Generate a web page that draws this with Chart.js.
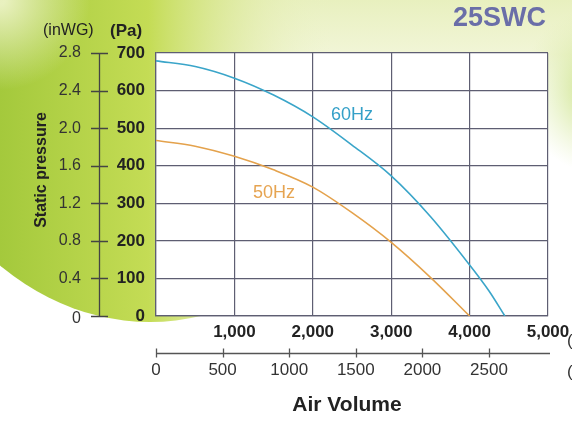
<!DOCTYPE html>
<html>
<head>
<meta charset="utf-8">
<script src="https://cdn.jsdelivr.net/npm/chart.js@4.4.0/dist/chart.umd.min.js"></script>
<style>
  html, body { margin: 0; padding: 0; background: #fff; }
  #wrap { width: 572px; height: 429px; }
</style>
</head>
<body>
<div id="wrap"><canvas id="fan-chart" width="572" height="429"></canvas></div>
<script>
// air volume (m3/h) and static pressure (Pa)
const flow60 = [0, 500, 1000, 1500, 2000, 2500, 3000, 3500, 4000, 4250, 4450];
const pa60 = [679, 664, 633, 588, 530, 455, 373, 265, 136, 66, 0];
const flow50 = [0, 500, 1000, 1500, 2000, 2500, 3000, 3500, 4000];
const pa50 = [467, 452, 425, 389, 343, 275, 196, 103, 0];

// axis ticks
const paTicks = [0, 100, 200, 300, 400, 500, 600, 700];
const inwgTicks = ["0", "0.4", "0.8", "1.2", "1.6", "2.0", "2.4", "2.8"];
const cfmTicks = [0, 500, 1000, 1500, 2000, 2500];
const CFM_TO_M3H = 1.699;

const FONT = '"Liberation Sans", Arial, sans-serif';

const toPoints = (xs, ys) => xs.map((x, i) => ({ x: x, y: ys[i] }));

// background: green swoosh on the left, pale haze on top, white plot
const backdrop = {
  id: "backdrop",
  beforeDraw(chart) {
    const ctx = chart.ctx;
    const { width, height, chartArea } = chart;
    ctx.save();
    ctx.fillStyle = "#ffffff";
    ctx.fillRect(0, 0, width, height);

    let g = ctx.createLinearGradient(0, 0, 0, 110);
    g.addColorStop(0, "rgba(232,240,190,1)");
    g.addColorStop(0.5, "rgba(238,243,205,0.8)");
    g.addColorStop(1, "rgba(255,255,255,0)");
    ctx.fillStyle = g;
    ctx.fillRect(0, 0, width, 110);

    g = ctx.createLinearGradient(0, 0, 330, 0);
    g.addColorStop(0, "#a4c93c");
    g.addColorStop(0.45, "#c4dc55");
    g.addColorStop(0.8, "rgba(226,236,170,0.5)");
    g.addColorStop(1, "rgba(236,243,200,0)");
    ctx.fillStyle = g;
    ctx.beginPath();
    ctx.ellipse(150, 0, 265, 322, 0, 0, Math.PI * 2);
    ctx.fill();

    // pale top-left corner
    g = ctx.createRadialGradient(0, 0, 5, 0, 0, 90);
    g.addColorStop(0, "rgba(240,245,205,0.9)");
    g.addColorStop(1, "rgba(240,245,205,0)");
    ctx.fillStyle = g;
    ctx.fillRect(0, 0, 120, 120);

    // light blob on the right
    g = ctx.createRadialGradient(605, 90, 10, 605, 90, 85);
    g.addColorStop(0, "rgba(200,225,130,1)");
    g.addColorStop(1, "rgba(225,238,180,0)");
    ctx.fillStyle = g;
    ctx.fillRect(500, 0, 72, 220);

    ctx.fillStyle = "#ffffff";
    ctx.fillRect(chartArea.left, chartArea.top,
      chartArea.right - chartArea.left, chartArea.bottom - chartArea.top);
    ctx.restore();
  }
};

// extra axes and text: inWG scale, CFM scale, titles, curve labels
const annotations = {
  id: "annotations",
  afterDraw(chart) {
    const ctx = chart.ctx;
    const xs = chart.scales.x;
    const ys = chart.scales.y;
    ctx.save();
    ctx.strokeStyle = "#444";
    ctx.fillStyle = "#333";
    ctx.lineWidth = 1.3;

    // inWG axis
    const axX = 99.5;
    ctx.beginPath();
    ctx.moveTo(axX, ys.getPixelForValue(700));
    ctx.lineTo(axX, ys.getPixelForValue(0));
    paTicks.forEach((v) => {
      const y = Math.round(ys.getPixelForValue(v)) + 0.5;
      ctx.moveTo(91, y);
      ctx.lineTo(108, y);
    });
    ctx.stroke();
    ctx.font = "16px " + FONT;
    ctx.textAlign = "right";
    ctx.textBaseline = "middle";
    paTicks.forEach((v, i) => {
      ctx.fillText(inwgTicks[i], 81, ys.getPixelForValue(v) + (v === 0 ? 3 : 0));
    });

    // unit headers
    ctx.textAlign = "left";
    ctx.fillStyle = "#222";
    ctx.fillText("(inWG)", 43, 31);
    ctx.font = "bold 17px " + FONT;
    ctx.fillText("(Pa)", 110, 31);

    // CFM axis
    const cy = 353.5;
    ctx.strokeStyle = "#555";
    ctx.beginPath();
    ctx.moveTo(xs.getPixelForValue(0), cy);
    ctx.lineTo(550, cy);
    cfmTicks.forEach((c) => {
      const x = Math.round(xs.getPixelForValue(c * CFM_TO_M3H)) + 0.5;
      ctx.moveTo(x, cy - 5);
      ctx.lineTo(x, cy + 4);
    });
    ctx.stroke();
    ctx.font = "17px " + FONT;
    ctx.fillStyle = "#333";
    ctx.textAlign = "center";
    cfmTicks.forEach((c) => {
      ctx.fillText(String(c), xs.getPixelForValue(c * CFM_TO_M3H), 370);
    });

    // units cut off at the right edge
    ctx.textAlign = "left";
    ctx.fillText("(m³/h)", 567, 341);
    ctx.fillText("(CFM)", 567, 372);

    // axis titles
    ctx.fillStyle = "#222";
    ctx.font = "bold 21px " + FONT;
    ctx.textAlign = "center";
    ctx.fillText("Air Volume", 347, 405);

    ctx.save();
    ctx.translate(42, 170);
    ctx.rotate(-Math.PI / 2);
    ctx.font = "bold 16px " + FONT;
    ctx.fillText("Static pressure", 0, 0);
    ctx.restore();

    // model name
    ctx.font = "bold 27px " + FONT;
    ctx.textAlign = "right";
    ctx.fillStyle = "#6a6ea8";
    ctx.fillText("25SWC", 546, 19);

    // curve labels
    ctx.font = "18px " + FONT;
    ctx.textAlign = "center";
    ctx.fillStyle = "#34a0c8";
    ctx.fillText("60Hz", 352, 115);
    ctx.fillStyle = "#e6a451";
    ctx.fillText("50Hz", 274, 193);
    ctx.restore();
  }
};

const gridColor = "#5e5e72";

new Chart(document.getElementById("fan-chart").getContext("2d"), {
  type: "line",
  data: {
    datasets: [
      {
        label: "60Hz",
        data: toPoints(flow60, pa60),
        borderColor: "#3aa5c9",
        borderWidth: 1.6,
        pointRadius: 0,
        cubicInterpolationMode: "monotone",
        fill: false,
      },
      {
        label: "50Hz",
        data: toPoints(flow50, pa50),
        borderColor: "#e4a24c",
        borderWidth: 1.6,
        pointRadius: 0,
        cubicInterpolationMode: "monotone",
        fill: false,
      },
    ],
  },
  options: {
    responsive: false,
    animation: false,
    events: [],
    layout: { padding: { left: 100, top: 53, right: 24, bottom: 83 } },
    plugins: {
      legend: { display: false },
      tooltip: { enabled: false },
    },
    scales: {
      x: {
        type: "linear",
        min: 0,
        max: 5000,
        afterFit: (s) => { s.height = 30; s.paddingLeft = 0; s.paddingRight = 0; },
        ticks: {
          stepSize: 1000,
          padding: 6,
          color: "#222",
          font: { family: FONT, size: 17, weight: "bold" },
          maxRotation: 0,
          callback: (v) => (v === 0 ? "" : v.toLocaleString("en-US")),
        },
        grid: { color: gridColor, lineWidth: 1.2, drawTicks: false },
        border: { color: gridColor, width: 1.2 },
      },
      y: {
        min: 0,
        max: 700,
        afterFit: (s) => { s.width = 56; s.paddingTop = 0; s.paddingBottom = 0; },
        ticks: {
          stepSize: 100,
          padding: 11,
          color: "#222",
          font: { family: FONT, size: 17, weight: "bold" },
        },
        grid: { color: gridColor, lineWidth: 1.2, drawTicks: false },
        border: { color: gridColor, width: 1.2 },
      },
    },
  },
  plugins: [backdrop, annotations],
});
</script>
</body>
</html>
